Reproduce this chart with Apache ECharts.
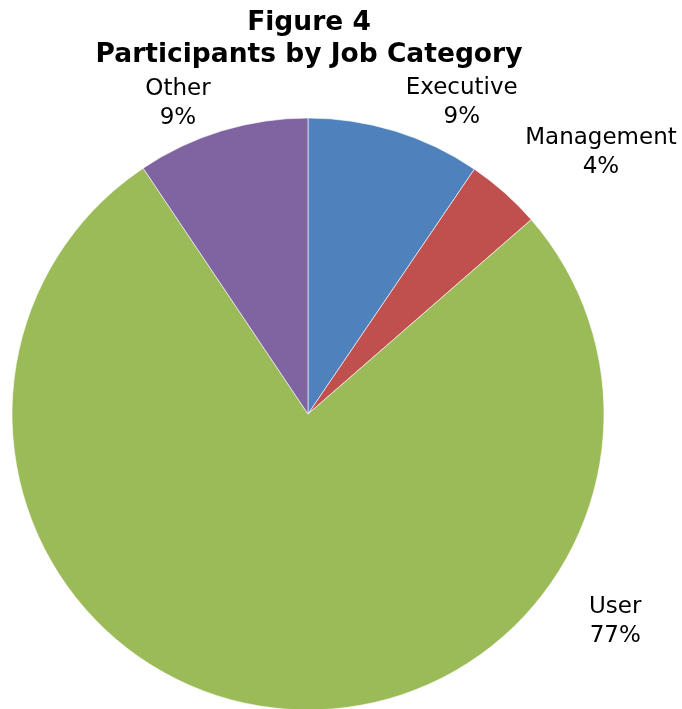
<!DOCTYPE html>
<html><head><meta charset="utf-8">
<script src="https://cdn.jsdelivr.net/npm/echarts@6/dist/echarts.min.js"></script>
<style>html,body{margin:0;padding:0;background:#fff}#c{width:682px;height:709px}</style>
</head><body><div id="c"></div>
<script>
const categories = ["Executive", "Management", "User", "Other"];
const values = [9.5, 4.1, 77.0, 9.4];
const colors = ["#4F81BD", "#C0504D", "#9BBB59", "#8064A2"];
// label anchor (angle in degrees clockwise from top, distance from pie centre)
const labelAngle = [26.3, 48.2, 124.1, -22.7];
const labelDist = [347, 393, 371, 337];

const CX = 308, CY = 414, R = 296;
const chart = echarts.init(document.getElementById('c'));
chart.setOption({
  animation: false,
  title: {
    text: 'Figure 4\nParticipants by Job Category',
    left: 304, top: 2, textAlign: 'center',
    textStyle: {fontFamily: 'DejaVu Sans', fontWeight: 'bold', fontSize: 26.5, lineHeight: 32, color: '#000'}
  },
  series: [{
    type: 'pie',
    center: [CX, CY],
    radius: R,
    startAngle: 90,
    clockwise: true,
    data: categories.map((c, i) => ({name: c, value: values[i], itemStyle: {color: colors[i]}})),
    itemStyle: {borderColor: '#fff', borderWidth: 0.6},
    label: {
      show: true, position: 'outside',
      formatter: p => p.name + '\n' + Math.floor(p.percent + 0.49) + '%',
      fontFamily: 'DejaVu Sans', fontSize: 23, lineHeight: 29, color: '#000', align: 'center'
    },
    labelLine: {show: false, length: 25, length2: 0},
    avoidLabelOverlap: false,
    labelLayout: function (p) {
      const a = labelAngle[p.dataIndex] * Math.PI / 180, d = labelDist[p.dataIndex];
      return {x: CX + d * Math.sin(a), y: CY - d * Math.cos(a), align: 'center', verticalAlign: 'middle'};
    }
  }]
});
</script></body></html>
